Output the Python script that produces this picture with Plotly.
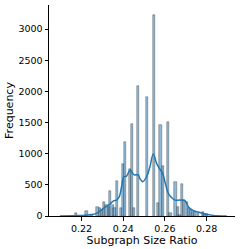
import plotly.graph_objects as go

bin_centers = [0.2173, 0.2224, 0.2248, 0.2277, 0.2288, 0.2298, 0.2309, 0.2320, 0.2331, 0.2338,
               0.2349, 0.2358, 0.2370, 0.2390, 0.2400, 0.2410, 0.2432, 0.2443, 0.2453, 0.2472,
               0.2514, 0.2546, 0.2568, 0.2579, 0.2589, 0.2616, 0.2627, 0.2651, 0.2661, 0.2670,
               0.2682, 0.2693, 0.2704, 0.2715, 0.2725, 0.2736, 0.2746, 0.2757, 0.2781, 0.2790,
               0.2800]
counts = [43, 85, 20, 150, 130, 100, 225, 180, 150, 395,
          180, 130, 556, 128, 834, 1192, 750, 1476, 128, 2085,
          1915, 3225, 214, 1455, 800, 1508, 43, 551, 150, 20,
          508, 257, 225, 130, 100, 60, 80, 50, 70, 40,
          30]

kde_x = [0.2096, 0.2160, 0.2208, 0.2240, 0.2272, 0.2304, 0.2336, 0.2352, 0.2368, 0.2381,
         0.2392, 0.2403, 0.2416, 0.2432, 0.2440, 0.2453, 0.2472, 0.2480, 0.2493, 0.2512,
         0.2528, 0.2544, 0.2560, 0.2573, 0.2589, 0.2600, 0.2616, 0.2632, 0.2648, 0.2672,
         0.2696, 0.2712, 0.2736, 0.2768, 0.2800, 0.2832, 0.2896]
kde_y = [0, 5, 10, 20, 43, 120, 190, 240, 255, 310,
         470, 630, 640, 740, 710, 660, 660, 600, 550, 630,
         790, 995, 845, 765, 685, 550, 365, 295, 255, 255,
         245, 150, 85, 55, 27, 10, 0]

x_ticks = [0.22, 0.24, 0.26, 0.28]
y_ticks = [0, 500, 1000, 1500, 2000, 2500, 3000]

fig = go.Figure()
fig.add_trace(go.Bar(
    x=bin_centers, y=counts, width=0.00105,
    marker=dict(color="rgba(31,119,180,0.5)", line=dict(color="rgba(40,40,40,0.7)", width=0.5)),
    showlegend=False,
))
fig.add_trace(go.Scatter(
    x=kde_x, y=kde_y, mode="lines", line=dict(color="#1f77b4", width=1.5, shape="spline"),
    showlegend=False,
))

font = "DejaVu Sans"
fig.update_layout(
    width=249, height=249,
    margin=dict(l=49, r=14, t=5, b=33),
    paper_bgcolor="white", plot_bgcolor="white",
    bargap=0,
    font=dict(family=font, color="black", size=10),
)
fig.update_xaxes(
    range=[0.2044, 0.2936], tickvals=x_ticks, ticktext=[f"{v:.2f}" for v in x_ticks],
    showline=True, linecolor="black", linewidth=1, ticks="outside", ticklen=3.5, tickwidth=1,
    tickcolor="black", showgrid=False, zeroline=False,
    title=dict(text="Subgraph Size Ratio", font=dict(size=11), standoff=0),
    tickfont=dict(size=9.5),
)
fig.update_yaxes(
    range=[0, 3387], tickvals=y_ticks,
    showline=True, linecolor="black", linewidth=1, ticks="outside", ticklen=3.5, tickwidth=1,
    tickcolor="black", showgrid=False, zeroline=False,
    title=dict(text="Frequency", font=dict(size=11), standoff=2),
    tickfont=dict(size=9.5),
)
fig.write_html("out.html", config={"displayModeBar": False},
               post_script="document.body.style.margin='0';document.body.style.overflow='hidden';")
